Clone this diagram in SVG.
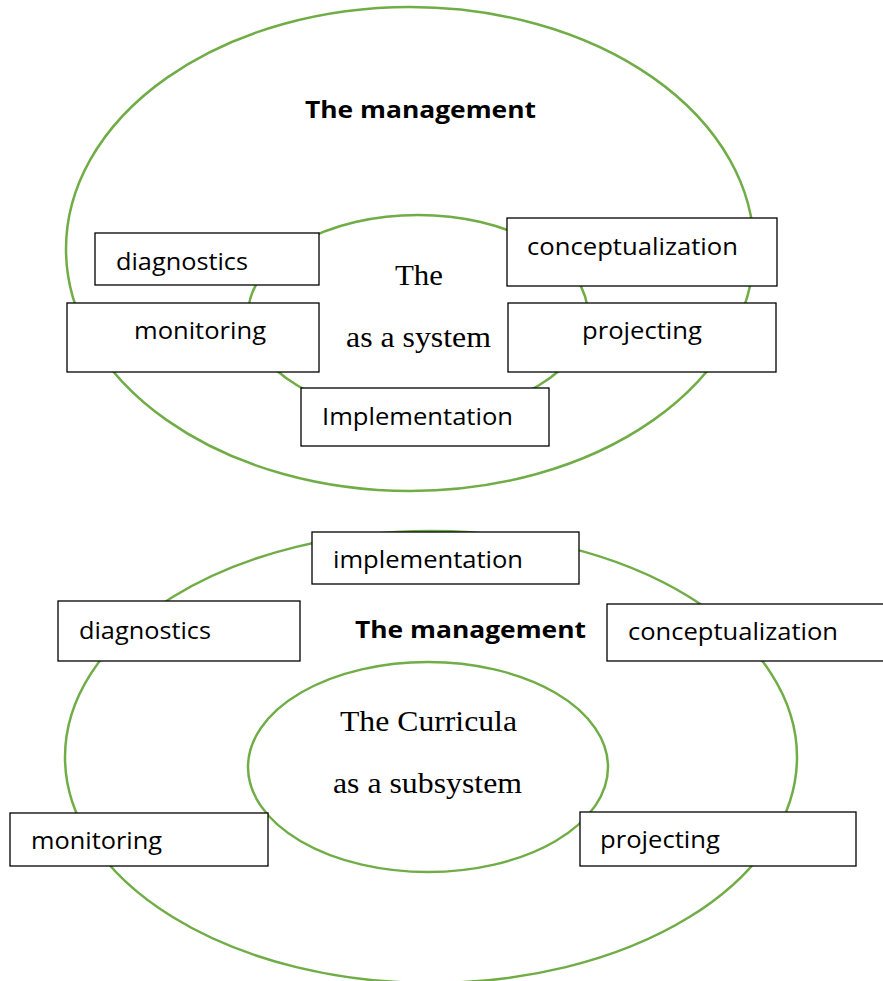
<svg xmlns="http://www.w3.org/2000/svg" width="883" height="981" viewBox="0 0 883 981">
  <style>
    .ring { fill: none; stroke: #70ad47; stroke-width: 2.5; }
    .box { fill: #ffffff; stroke: #000000; stroke-width: 1.3; }
    .lbl { font-family: "Open Sans", "Liberation Sans", sans-serif; font-size: 23px; fill: #000; }
    .bold { font-family: "Open Sans", "Liberation Sans", sans-serif; font-size: 24px; font-weight: bold; fill: #000; }
    .serif { font-family: "Liberation Serif", "Times New Roman", serif; font-size: 29px; fill: #000; }
  </style>
  <rect width="883" height="981" fill="#ffffff"/>

  <!-- Upper figure: the management around the curricula as a system -->
  <g id="upper-rings">
    <ellipse class="ring" cx="410" cy="249" rx="344" ry="242"/>
    <ellipse class="ring" cx="418" cy="315" rx="170" ry="100"/>
  </g>
  <g id="upper-title">
    <text class="bold" x="305" y="118" textLength="231" lengthAdjust="spacingAndGlyphs">The management</text>
  </g>
  <g id="upper-core">
    <text class="serif" x="395" y="285" textLength="48" lengthAdjust="spacingAndGlyphs">The</text>
    <text class="serif" x="346" y="347" textLength="145" lengthAdjust="spacingAndGlyphs">as a system</text>
  </g>
  <g id="upper-diagnostics">
    <rect class="box" x="95" y="233" width="224" height="52"/>
    <text class="lbl" x="116" y="270" textLength="132" lengthAdjust="spacingAndGlyphs">diagnostics</text>
  </g>
  <g id="upper-monitoring">
    <rect class="box" x="67" y="303" width="252" height="69"/>
    <text class="lbl" x="134" y="339" textLength="132" lengthAdjust="spacingAndGlyphs">monitoring</text>
  </g>
  <g id="upper-implementation">
    <rect class="box" x="301" y="388" width="248" height="58"/>
    <text class="lbl" x="322" y="425" textLength="191" lengthAdjust="spacingAndGlyphs">Implementation</text>
  </g>
  <g id="upper-conceptualization">
    <rect class="box" x="507" y="218" width="270" height="68"/>
    <text class="lbl" x="527" y="255" textLength="211" lengthAdjust="spacingAndGlyphs">conceptualization</text>
  </g>
  <g id="upper-projecting">
    <rect class="box" x="508" y="303" width="268" height="69"/>
    <text class="lbl" x="582" y="339" textLength="120" lengthAdjust="spacingAndGlyphs">projecting</text>
  </g>

  <!-- Lower figure: the management around the curricula as a subsystem -->
  <g id="lower-rings">
    <ellipse class="ring" cx="431" cy="757" rx="366" ry="226"/>
    <ellipse class="ring" cx="428" cy="767" rx="180" ry="105"/>
  </g>
  <g id="lower-title">
    <text class="bold" x="355" y="638" textLength="231" lengthAdjust="spacingAndGlyphs">The management</text>
  </g>
  <g id="lower-core">
    <text class="serif" x="340" y="731" textLength="177" lengthAdjust="spacingAndGlyphs">The Curricula</text>
    <text class="serif" x="333" y="793" textLength="189" lengthAdjust="spacingAndGlyphs">as a subsystem</text>
  </g>
  <g id="lower-implementation">
    <rect class="box" x="312" y="532" width="267" height="52"/>
    <text class="lbl" x="333" y="568" textLength="190" lengthAdjust="spacingAndGlyphs">implementation</text>
  </g>
  <g id="lower-diagnostics">
    <rect class="box" x="58" y="601" width="242" height="60"/>
    <text class="lbl" x="79" y="639" textLength="132" lengthAdjust="spacingAndGlyphs">diagnostics</text>
  </g>
  <g id="lower-conceptualization">
    <rect class="box" x="607" y="604" width="280" height="57" stroke-width="1.8"/>
    <text class="lbl" x="628" y="640" textLength="210" lengthAdjust="spacingAndGlyphs">conceptualization</text>
  </g>
  <g id="lower-monitoring">
    <rect class="box" x="10" y="813" width="258" height="53"/>
    <text class="lbl" x="31" y="849" textLength="131" lengthAdjust="spacingAndGlyphs">monitoring</text>
  </g>
  <g id="lower-projecting">
    <rect class="box" x="580" y="812" width="276" height="54"/>
    <text class="lbl" x="600" y="848" textLength="120" lengthAdjust="spacingAndGlyphs">projecting</text>
  </g>
</svg>
